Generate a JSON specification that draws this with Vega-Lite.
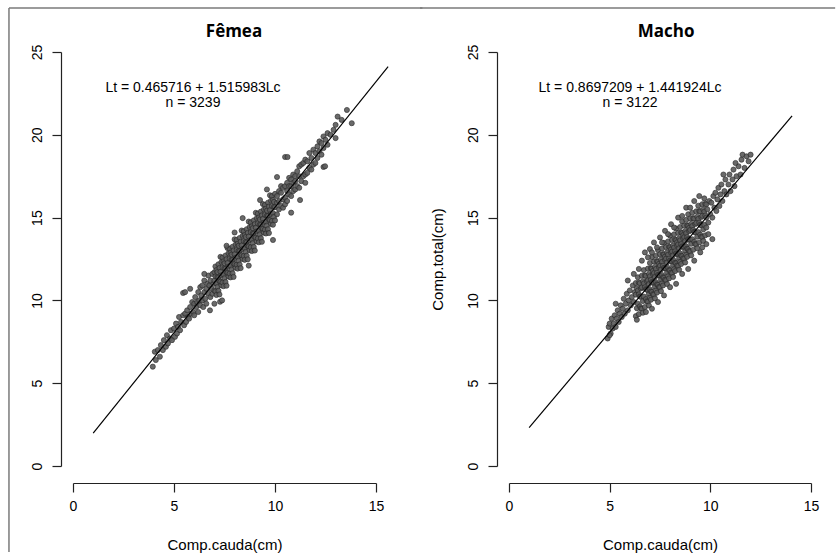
{
"$schema":"https://vega.github.io/schema/vega-lite/v6.json",
"padding":{"left":8,"top":7,"right":0,"bottom":0},
"background":"white",
"bounds":"flush",
"spacing":133,
"config":{"view":{"stroke":null},"axis":{"grid":false,"labelFont":"Liberation Sans","titleFont":"Liberation Sans","labelColor":"#000","titleColor":"#000","domainColor":"#222","tickColor":"#222","domainWidth":1.2,"tickWidth":1.2,"labelFontSize":14,"titleFontSize":15,"titleFontWeight":"normal","tickSize":9}},
"datasets":{
"fem":[
{"x":3.95,"y":6.0},{"x":4.05,"y":6.9},{"x":4.1,"y":6.4},{"x":4.2,"y":7.0},{"x":4.3,"y":6.6},{"x":4.35,"y":7.3},{"x":4.45,"y":7.0},{"x":4.5,"y":7.6},{"x":4.6,"y":7.2},{"x":4.65,"y":7.9},{"x":4.7,"y":7.4},{"x":4.8,"y":7.7},{"x":4.85,"y":8.2},{"x":4.9,"y":7.6},{"x":5.0,"y":8.3},{"x":5.05,"y":7.8},{"x":5.1,"y":8.6},{"x":5.15,"y":8.0},{"x":5.2,"y":8.4},{"x":5.25,"y":9.0},{"x":5.3,"y":8.2},{"x":5.35,"y":8.7},{"x":5.45,"y":9.1},{"x":5.5,"y":8.5},
{"x":5.55,"y":9.2},{"x":5.6,"y":8.7},{"x":5.65,"y":9.4},{"x":5.7,"y":9.0},{"x":5.75,"y":8.9},{"x":5.8,"y":9.6},{"x":5.85,"y":9.2},{"x":5.9,"y":9.9},{"x":5.95,"y":9.3},{"x":6.0,"y":9.8},{"x":6.0,"y":9.1},{"x":6.05,"y":10.2},{"x":6.1,"y":9.6},{"x":6.15,"y":9.9},{"x":6.2,"y":10.5},{"x":6.2,"y":9.3},{"x":6.25,"y":10.0},{"x":6.3,"y":10.8},{"x":6.3,"y":9.7},{"x":6.35,"y":10.3},{"x":6.4,"y":10.0},{"x":6.4,"y":10.9},{"x":6.45,"y":9.6},{"x":6.5,"y":10.5},{"x":6.5,"y":11.2},{"x":6.55,"y":10.1},{"x":6.6,"y":10.7},{"x":6.6,"y":9.8},{"x":6.65,"y":11.0},{"x":6.7,"y":10.4},{"x":6.7,"y":11.5},{"x":6.75,"y":10.9},{"x":6.8,"y":10.2},{"x":6.8,"y":11.2},{"x":6.85,"y":10.7},{"x":6.9,"y":11.6},{"x":6.9,"y":10.4},{"x":6.95,"y":11.0},{"x":7.0,"y":10.6},{"x":7.0,"y":11.7},{"x":7.0,"y":11.2},
{"x":7.05,"y":10.55},{"x":7.05,"y":11.45},{"x":7.05,"y":12.05},
{"x":7.1,"y":11.03},{"x":7.1,"y":11.83},{"x":7.1,"y":10.33},
{"x":7.15,"y":11.41},{"x":7.15,"y":10.81},{"x":7.15,"y":11.71},
{"x":7.2,"y":10.58},{"x":7.2,"y":12.18},{"x":7.2,"y":11.38},
{"x":7.25,"y":11.96},{"x":7.25,"y":11.16},{"x":7.25,"y":10.36},
{"x":7.3,"y":11.13},{"x":7.3,"y":12.63},{"x":7.3,"y":11.73},
{"x":7.35,"y":12.31},{"x":7.35,"y":10.91},{"x":7.35,"y":11.51},
{"x":7.4,"y":11.08},{"x":7.4,"y":11.98},{"x":7.4,"y":12.58},
{"x":7.45,"y":11.56},{"x":7.45,"y":12.36},{"x":7.45,"y":10.86},
{"x":7.5,"y":11.94},{"x":7.5,"y":11.34},{"x":7.5,"y":12.24},
{"x":7.55,"y":11.11},{"x":7.55,"y":12.71},{"x":7.55,"y":11.91},
{"x":7.6,"y":12.49},{"x":7.6,"y":11.69},{"x":7.6,"y":10.89},
{"x":7.65,"y":11.66},{"x":7.65,"y":13.16},{"x":7.65,"y":12.26},
{"x":7.7,"y":12.84},{"x":7.7,"y":11.44},{"x":7.7,"y":12.04},
{"x":7.75,"y":11.62},{"x":7.75,"y":12.52},{"x":7.75,"y":13.12},
{"x":7.8,"y":12.09},{"x":7.8,"y":12.89},{"x":7.8,"y":11.39},
{"x":7.85,"y":12.47},{"x":7.85,"y":11.87},{"x":7.85,"y":12.77},
{"x":7.9,"y":11.64},{"x":7.9,"y":13.24},{"x":7.9,"y":12.44},
{"x":7.95,"y":13.02},{"x":7.95,"y":12.22},{"x":7.95,"y":11.42},
{"x":8.0,"y":12.19},{"x":8.0,"y":13.69},{"x":8.0,"y":12.79},
{"x":8.05,"y":13.37},{"x":8.05,"y":11.97},{"x":8.05,"y":12.57},
{"x":8.1,"y":12.15},{"x":8.1,"y":13.05},{"x":8.1,"y":13.65},
{"x":8.15,"y":12.62},{"x":8.15,"y":13.42},{"x":8.15,"y":11.92},
{"x":8.2,"y":13.0},{"x":8.2,"y":12.4},{"x":8.2,"y":13.3},
{"x":8.25,"y":12.17},{"x":8.25,"y":13.77},{"x":8.25,"y":12.97},
{"x":8.3,"y":13.55},{"x":8.3,"y":12.75},{"x":8.3,"y":11.95},
{"x":8.35,"y":12.72},{"x":8.35,"y":14.22},{"x":8.35,"y":13.32},
{"x":8.4,"y":13.9},{"x":8.4,"y":12.5},{"x":8.4,"y":13.1},
{"x":8.45,"y":12.68},{"x":8.45,"y":13.58},{"x":8.45,"y":14.18},
{"x":8.5,"y":13.15},{"x":8.5,"y":13.95},{"x":8.5,"y":12.45},
{"x":8.55,"y":13.53},{"x":8.55,"y":12.93},{"x":8.55,"y":13.83},
{"x":8.6,"y":12.7},{"x":8.6,"y":14.3},{"x":8.6,"y":13.5},
{"x":8.65,"y":14.08},{"x":8.65,"y":13.28},{"x":8.65,"y":12.48},
{"x":8.7,"y":13.26},{"x":8.7,"y":14.76},{"x":8.7,"y":13.86},
{"x":8.75,"y":14.43},{"x":8.75,"y":13.03},{"x":8.75,"y":13.63},
{"x":8.8,"y":13.21},{"x":8.8,"y":14.11},{"x":8.8,"y":14.71},
{"x":8.85,"y":13.68},{"x":8.85,"y":14.48},{"x":8.85,"y":12.98},
{"x":8.9,"y":14.06},{"x":8.9,"y":13.46},{"x":8.9,"y":14.36},
{"x":8.95,"y":13.23},{"x":8.95,"y":14.83},{"x":8.95,"y":14.03},
{"x":9.0,"y":14.61},{"x":9.0,"y":13.81},{"x":9.0,"y":13.01},
{"x":9.05,"y":13.79},{"x":9.05,"y":15.29},{"x":9.05,"y":14.39},
{"x":9.1,"y":14.96},{"x":9.1,"y":13.56},{"x":9.1,"y":14.16},
{"x":9.15,"y":13.74},{"x":9.15,"y":14.64},{"x":9.15,"y":15.24},
{"x":9.2,"y":14.21},{"x":9.2,"y":15.01},{"x":9.2,"y":13.51},
{"x":9.25,"y":14.59},{"x":9.25,"y":13.99},{"x":9.25,"y":14.89},
{"x":9.3,"y":13.76},{"x":9.3,"y":15.36},{"x":9.3,"y":14.56},
{"x":9.35,"y":15.14},{"x":9.35,"y":14.34},{"x":9.35,"y":13.54},
{"x":9.4,"y":14.32},{"x":9.4,"y":15.82},{"x":9.4,"y":14.92},
{"x":9.45,"y":15.49},{"x":9.45,"y":14.09},{"x":9.45,"y":14.69},
{"x":9.5,"y":14.27},{"x":9.5,"y":15.17},{"x":9.5,"y":15.77},
{"x":9.55,"y":14.74},{"x":9.55,"y":15.54},{"x":9.55,"y":14.04},
{"x":9.6,"y":15.12},{"x":9.6,"y":14.52},{"x":9.6,"y":15.42},
{"x":9.65,"y":14.3},{"x":9.65,"y":15.9},{"x":9.65,"y":15.1},
{"x":9.7,"y":15.67},{"x":9.7,"y":14.87},{"x":9.7,"y":14.07},
{"x":9.75,"y":14.85},{"x":9.75,"y":16.35},{"x":9.75,"y":15.45},
{"x":9.8,"y":16.02},{"x":9.8,"y":14.62},{"x":9.8,"y":15.22},
{"x":9.85,"y":14.8},{"x":9.85,"y":15.7},{"x":9.85,"y":16.3},
{"x":9.9,"y":15.27},{"x":9.9,"y":16.07},{"x":9.9,"y":14.57},
{"x":9.95,"y":15.65},{"x":9.95,"y":15.05},{"x":9.95,"y":15.95},
{"x":10.0,"y":14.83},{"x":10.0,"y":16.43},{"x":10.0,"y":15.63},
{"x":10.1,"y":15.2},{"x":10.1,"y":16.3},{"x":10.1,"y":15.9},
{"x":10.2,"y":16.6},{"x":10.2,"y":15.5},{"x":10.2,"y":16.0},
{"x":10.3,"y":15.7},{"x":10.3,"y":16.5},{"x":10.3,"y":16.9},
{"x":10.4,"y":16.1},{"x":10.4,"y":15.6},{"x":10.4,"y":16.8},
{"x":10.5,"y":16.9},{"x":10.5,"y":16.2},{"x":10.5,"y":15.8},
{"x":10.6,"y":16.0},{"x":10.6,"y":17.1},{"x":10.6,"y":16.6},
{"x":10.7,"y":16.4},{"x":10.7,"y":17.4},{"x":10.7,"y":16.9},
{"x":10.8,"y":17.3},{"x":10.8,"y":16.3},{"x":10.8,"y":16.9},
{"x":10.9,"y":16.6},{"x":10.9,"y":17.6},{"x":10.9,"y":17.1},
{"x":11.0,"y":17.5},{"x":11.0,"y":16.7},{"x":11.0,"y":17.2},
{"x":11.1,"y":16.9},{"x":11.1,"y":17.8},
{"x":11.2,"y":17.5},{"x":11.2,"y":18.1},{"x":11.2,"y":16.8},
{"x":11.3,"y":17.2},{"x":11.3,"y":18.2},
{"x":11.4,"y":18.3},{"x":11.4,"y":17.5},
{"x":11.5,"y":17.6},{"x":11.5,"y":18.5},{"x":11.5,"y":17.1},
{"x":11.6,"y":18.4},{"x":11.6,"y":17.7},
{"x":11.7,"y":18.0},{"x":11.7,"y":18.9},
{"x":11.8,"y":18.6},{"x":11.8,"y":17.9},
{"x":11.9,"y":18.2},{"x":11.9,"y":19.1},
{"x":12.0,"y":18.9},{"x":12.0,"y":18.3},
{"x":12.1,"y":19.3},{"x":12.1,"y":18.6},
{"x":12.2,"y":19.0},{"x":12.2,"y":19.6},
{"x":12.3,"y":19.5},{"x":12.3,"y":18.8},
{"x":12.4,"y":19.2},{"x":12.4,"y":19.9},{"x":12.4,"y":18.06},{"x":12.48,"y":18.1},
{"x":12.5,"y":19.7},{"x":12.6,"y":19.4},{"x":12.6,"y":20.1},{"x":12.75,"y":20.0},{"x":12.9,"y":20.3},{"x":13.0,"y":20.6},{"x":13.0,"y":19.8},{"x":13.1,"y":21.1},{"x":13.3,"y":20.9},{"x":13.56,"y":21.5},{"x":13.8,"y":20.7},
{"x":5.45,"y":10.45},{"x":5.55,"y":10.5},{"x":5.8,"y":10.7},{"x":6.78,"y":9.4},{"x":7.28,"y":9.92},{"x":7.38,"y":10.0},{"x":8.4,"y":14.97},{"x":9.26,"y":16.06},{"x":9.9,"y":13.65},{"x":10.1,"y":17.45},{"x":11.24,"y":16.06},{"x":10.5,"y":18.66},{"x":10.62,"y":18.66},{"x":8.0,"y":14.1},{"x":8.7,"y":12.1},{"x":7.6,"y":13.3},{"x":9.6,"y":16.7},{"x":10.8,"y":15.3},{"x":6.5,"y":11.6},{"x":7.0,"y":9.8}
],
"mac":[
{"x":4.9,"y":7.7},{"x":4.95,"y":8.4},{"x":5.0,"y":8.6},{"x":5.05,"y":8.0},{"x":5.1,"y":8.9},{"x":5.15,"y":8.3},{"x":5.2,"y":8.6},{"x":5.25,"y":9.1},{"x":5.3,"y":8.4},{"x":5.35,"y":8.9},{"x":5.4,"y":9.4},{"x":5.45,"y":8.7},{"x":5.5,"y":9.2},{"x":5.55,"y":9.7},{"x":5.6,"y":9.0},{"x":5.65,"y":9.5},{"x":5.7,"y":10.1},{"x":5.75,"y":9.2},{"x":5.8,"y":9.8},{"x":5.85,"y":10.4},{"x":5.9,"y":9.4},{"x":5.95,"y":10.0},{"x":6.0,"y":10.6},{"x":6.05,"y":9.7},{"x":6.1,"y":10.2},{"x":6.15,"y":10.9},{"x":6.2,"y":9.9},{"x":6.25,"y":10.5},{"x":5.3,"y":9.8},{"x":5.0,"y":7.9},
{"x":6.3,"y":9.05},{"x":6.3,"y":10.35},{"x":6.3,"y":11.05},
{"x":6.35,"y":10.73},{"x":6.35,"y":9.53},{"x":6.35,"y":8.83},
{"x":6.4,"y":9.8},{"x":6.4,"y":11.4},{"x":6.4,"y":10.6},
{"x":6.45,"y":10.37},{"x":6.45,"y":9.17},{"x":6.45,"y":11.07},
{"x":6.5,"y":9.64},{"x":6.5,"y":11.04},{"x":6.5,"y":10.24},
{"x":6.55,"y":10.72},{"x":6.55,"y":9.52},{"x":6.55,"y":10.22},
{"x":6.6,"y":9.49},{"x":6.6,"y":10.79},{"x":6.6,"y":11.49},
{"x":6.65,"y":11.16},{"x":6.65,"y":9.96},{"x":6.65,"y":9.26},
{"x":6.7,"y":10.23},{"x":6.7,"y":11.83},{"x":6.7,"y":11.03},
{"x":6.75,"y":10.8},{"x":6.75,"y":9.6},{"x":6.75,"y":11.5},
{"x":6.8,"y":10.08},{"x":6.8,"y":11.48},{"x":6.8,"y":10.68},
{"x":6.85,"y":11.15},{"x":6.85,"y":9.95},{"x":6.85,"y":10.65},
{"x":6.9,"y":9.92},{"x":6.9,"y":11.22},{"x":6.9,"y":11.92},{"x":6.9,"y":10.62},
{"x":6.95,"y":11.59},{"x":6.95,"y":10.39},{"x":6.95,"y":9.69},{"x":6.95,"y":10.99},
{"x":7.0,"y":10.66},{"x":7.0,"y":12.26},{"x":7.0,"y":11.46},{"x":7.0,"y":10.16},
{"x":7.05,"y":11.24},{"x":7.05,"y":10.04},{"x":7.05,"y":11.94},{"x":7.05,"y":10.54},
{"x":7.1,"y":10.51},{"x":7.1,"y":11.91},{"x":7.1,"y":11.11},{"x":7.1,"y":12.61},
{"x":7.15,"y":11.58},{"x":7.15,"y":10.38},{"x":7.15,"y":11.08},{"x":7.15,"y":11.78},
{"x":7.2,"y":10.35},{"x":7.2,"y":11.65},{"x":7.2,"y":12.35},{"x":7.2,"y":11.05},
{"x":7.25,"y":12.02},{"x":7.25,"y":10.82},{"x":7.25,"y":10.12},{"x":7.25,"y":11.42},
{"x":7.3,"y":11.1},{"x":7.3,"y":12.7},{"x":7.3,"y":11.9},{"x":7.3,"y":10.6},
{"x":7.35,"y":11.67},{"x":7.35,"y":10.47},{"x":7.35,"y":12.37},{"x":7.35,"y":10.97},
{"x":7.4,"y":10.94},{"x":7.4,"y":12.34},{"x":7.4,"y":11.54},{"x":7.4,"y":13.04},
{"x":7.45,"y":12.01},{"x":7.45,"y":10.81},{"x":7.45,"y":11.51},{"x":7.45,"y":12.21},
{"x":7.5,"y":10.79},{"x":7.5,"y":12.09},{"x":7.5,"y":12.79},{"x":7.5,"y":11.49},
{"x":7.55,"y":12.46},{"x":7.55,"y":11.26},{"x":7.55,"y":10.56},{"x":7.55,"y":11.86},
{"x":7.6,"y":11.53},{"x":7.6,"y":13.13},{"x":7.6,"y":12.33},{"x":7.6,"y":11.03},
{"x":7.65,"y":12.1},{"x":7.65,"y":10.9},{"x":7.65,"y":12.8},{"x":7.65,"y":11.4},
{"x":7.7,"y":11.37},{"x":7.7,"y":12.77},{"x":7.7,"y":11.97},{"x":7.7,"y":13.47},
{"x":7.75,"y":12.45},{"x":7.75,"y":11.25},{"x":7.75,"y":11.95},{"x":7.75,"y":12.65},
{"x":7.8,"y":11.22},{"x":7.8,"y":12.52},{"x":7.8,"y":13.22},{"x":7.8,"y":11.92},
{"x":7.85,"y":12.89},{"x":7.85,"y":11.69},{"x":7.85,"y":10.99},{"x":7.85,"y":12.29},
{"x":7.9,"y":11.96},{"x":7.9,"y":13.56},{"x":7.9,"y":12.76},{"x":7.9,"y":11.46},
{"x":7.95,"y":12.53},{"x":7.95,"y":11.33},{"x":7.95,"y":13.23},{"x":7.95,"y":11.83},
{"x":8.0,"y":11.81},{"x":8.0,"y":13.21},{"x":8.0,"y":12.41},{"x":8.0,"y":13.91},
{"x":8.05,"y":12.88},{"x":8.05,"y":11.68},{"x":8.05,"y":12.38},{"x":8.05,"y":13.08},
{"x":8.1,"y":11.65},{"x":8.1,"y":12.95},{"x":8.1,"y":13.65},{"x":8.1,"y":12.35},
{"x":8.15,"y":13.32},{"x":8.15,"y":12.12},{"x":8.15,"y":11.42},{"x":8.15,"y":12.72},
{"x":8.2,"y":12.39},{"x":8.2,"y":13.99},{"x":8.2,"y":13.19},{"x":8.2,"y":11.89},
{"x":8.25,"y":12.97},{"x":8.25,"y":11.77},{"x":8.25,"y":13.67},{"x":8.25,"y":12.27},
{"x":8.3,"y":12.24},{"x":8.3,"y":13.64},{"x":8.3,"y":12.84},{"x":8.3,"y":14.34},
{"x":8.35,"y":13.31},{"x":8.35,"y":12.11},{"x":8.35,"y":12.81},{"x":8.35,"y":13.51},
{"x":8.4,"y":12.08},{"x":8.4,"y":13.38},{"x":8.4,"y":14.08},{"x":8.4,"y":12.78},
{"x":8.45,"y":13.75},{"x":8.45,"y":12.55},{"x":8.45,"y":11.85},{"x":8.45,"y":13.15},
{"x":8.5,"y":12.83},{"x":8.5,"y":14.43},{"x":8.5,"y":13.63},{"x":8.5,"y":12.33},
{"x":8.55,"y":13.4},{"x":8.55,"y":12.2},{"x":8.55,"y":14.1},{"x":8.55,"y":12.7},
{"x":8.6,"y":12.67},{"x":8.6,"y":14.07},{"x":8.6,"y":13.27},{"x":8.6,"y":14.77},
{"x":8.65,"y":13.74},{"x":8.65,"y":12.54},{"x":8.65,"y":13.24},{"x":8.65,"y":13.94},
{"x":8.7,"y":12.52},{"x":8.7,"y":13.82},{"x":8.7,"y":14.52},{"x":8.7,"y":13.22},
{"x":8.75,"y":14.19},{"x":8.75,"y":12.99},{"x":8.75,"y":12.29},{"x":8.75,"y":13.59},
{"x":8.8,"y":13.26},{"x":8.8,"y":14.86},{"x":8.8,"y":14.06},{"x":8.8,"y":12.76},
{"x":8.85,"y":13.83},{"x":8.85,"y":12.63},{"x":8.85,"y":14.53},{"x":8.85,"y":13.13},
{"x":8.9,"y":13.1},{"x":8.9,"y":14.5},{"x":8.9,"y":13.7},{"x":8.9,"y":15.2},
{"x":8.95,"y":14.18},{"x":8.95,"y":12.98},{"x":8.95,"y":13.68},{"x":8.95,"y":14.38},
{"x":9.0,"y":12.95},{"x":9.0,"y":14.25},{"x":9.0,"y":14.95},{"x":9.0,"y":13.65},
{"x":9.05,"y":14.62},{"x":9.05,"y":13.42},{"x":9.05,"y":12.72},
{"x":9.1,"y":13.69},{"x":9.1,"y":15.29},{"x":9.1,"y":14.49},
{"x":9.15,"y":14.26},{"x":9.15,"y":13.06},{"x":9.15,"y":14.96},
{"x":9.2,"y":13.54},{"x":9.2,"y":14.94},{"x":9.2,"y":14.14},
{"x":9.25,"y":14.61},{"x":9.25,"y":13.41},{"x":9.25,"y":14.11},
{"x":9.3,"y":13.38},{"x":9.3,"y":14.68},{"x":9.3,"y":15.38},
{"x":9.35,"y":15.05},{"x":9.35,"y":13.85},{"x":9.35,"y":13.15},
{"x":9.4,"y":14.12},{"x":9.4,"y":15.72},{"x":9.4,"y":14.92},
{"x":9.45,"y":14.7},{"x":9.45,"y":13.5},{"x":9.45,"y":15.4},
{"x":9.5,"y":13.97},{"x":9.5,"y":15.37},{"x":9.5,"y":14.57},
{"x":9.55,"y":15.04},{"x":9.55,"y":13.84},{"x":9.55,"y":14.54},
{"x":9.6,"y":13.81},{"x":9.6,"y":15.11},{"x":9.6,"y":15.81},
{"x":9.65,"y":15.49},{"x":9.65,"y":14.29},{"x":9.65,"y":13.59},
{"x":9.7,"y":14.56},{"x":9.7,"y":16.16},{"x":9.7,"y":15.36},
{"x":9.75,"y":15.13},{"x":9.75,"y":13.93},{"x":9.75,"y":15.83},
{"x":9.8,"y":14.4},{"x":9.8,"y":15.8},{"x":9.8,"y":15.0},
{"x":6.6,"y":12.4},{"x":6.75,"y":12.9},{"x":6.9,"y":12.6},{"x":7.0,"y":13.1},{"x":7.1,"y":12.9},{"x":7.2,"y":13.5},{"x":7.35,"y":13.2},{"x":7.5,"y":13.8},{"x":7.6,"y":13.5},{"x":7.75,"y":14.2},{"x":7.9,"y":14.0},{"x":8.05,"y":14.6},{"x":8.2,"y":14.4},{"x":8.4,"y":15.0},{"x":8.6,"y":15.1},{"x":8.8,"y":15.6},{"x":9.0,"y":15.6},{"x":9.2,"y":16.0},{"x":9.45,"y":16.3},{"x":6.45,"y":11.9},{"x":5.9,"y":11.2},{"x":6.2,"y":11.6},
{"x":6.8,"y":9.3},{"x":7.1,"y":9.5},{"x":7.4,"y":9.9},{"x":7.7,"y":10.3},{"x":8.0,"y":10.8},{"x":8.3,"y":11.0},{"x":8.6,"y":11.6},{"x":8.9,"y":11.9},{"x":9.2,"y":12.4},{"x":9.5,"y":12.9},{"x":9.8,"y":13.4},{"x":10.1,"y":13.7},{"x":9.9,"y":14.0},{"x":9.6,"y":13.2},
{"x":9.85,"y":15.5},{"x":9.9,"y":14.7},{"x":9.95,"y":16.0},{"x":10.0,"y":15.2},{"x":10.05,"y":15.9},{"x":10.1,"y":15.0},{"x":10.15,"y":16.3},{"x":10.2,"y":15.6},{"x":10.25,"y":16.5},{"x":10.3,"y":15.4},{"x":10.35,"y":16.1},{"x":10.4,"y":16.8},{"x":10.45,"y":15.7},{"x":10.5,"y":16.4},{"x":10.55,"y":17.0},{"x":10.6,"y":16.0},{"x":10.7,"y":16.6},{"x":10.75,"y":17.3},{"x":10.8,"y":16.4},{"x":10.9,"y":17.0},{"x":10.95,"y":17.6},{"x":11.0,"y":16.6},{"x":11.1,"y":17.3},{"x":11.15,"y":17.9},{"x":11.2,"y":16.9},{"x":11.3,"y":17.5},{"x":11.4,"y":18.1},{"x":11.5,"y":17.6},{"x":11.55,"y":18.5},{"x":11.6,"y":18.8},{"x":11.7,"y":18.0},{"x":11.8,"y":18.7},{"x":11.9,"y":18.4},{"x":12.0,"y":18.8},{"x":11.25,"y":18.3},{"x":10.65,"y":17.6}
]},
"hconcat":[
{
"width":303,"height":414,
"encoding":{
"x":{"field":"x","type":"quantitative","scale":{"domain":[0,15],"nice":false,"zero":false},"axis":{"orient":"bottom","offset":17,"values":[0,5,10,15],"labelPadding":7,"labelFlush":false,"labelOverlap":false,"title":"Comp.cauda(cm)","titlePadding":24}},
"y":{"field":"y","type":"quantitative","scale":{"domain":[0,25],"nice":false,"zero":false},"axis":{"orient":"left","offset":12,"values":[0,5,10,15,20,25],"labelAngle":-90,"labelAlign":"center","labelBaseline":"bottom","labelPadding":8,"labelOverlap":false,"title":null}}
},
"layer":[
{"data":{"values":[{"x":-3.17,"y":27.66,"y2":-5.2}]},"mark":{"type":"rule","color":"#7a7a7a","strokeWidth":1.5},"encoding":{"y2":{"field":"y2"}}},
{"data":{"values":[{"x":-3.17,"x2":17.3,"y":27.66}]},"mark":{"type":"rule","color":"#7a7a7a","strokeWidth":1.5},"encoding":{"x2":{"field":"x2"}}},
{"data":{"name":"fem"},"mark":{"type":"circle","size":26,"color":"#5e5e5e","stroke":"#262626","strokeWidth":0.7,"opacity":0.92}},
{"data":{"values":[{"x":1,"y":1.982},{"x":15.6,"y":24.115}]},"mark":{"type":"line","color":"#000","strokeWidth":1.2}},
{"data":{"values":[{"x":5.94,"y":22.85,"t":"Lt = 0.465716 + 1.515983Lc"},{"x":5.94,"y":21.95,"t":"n = 3239"}]},"mark":{"type":"text","font":"Liberation Sans","fontSize":14,"baseline":"middle","align":"center","color":"#000"},"encoding":{"text":{"field":"t"}}},
{"data":{"values":[{"x":7.97,"y":25.9,"t":"Fêmea"}]},"mark":{"type":"text","font":"Open Sans","fontSize":17,"fontWeight":"bold","baseline":"alphabetic","align":"center","color":"#000"},"encoding":{"text":{"field":"t"}}}
]
},
{
"width":302,"height":414,
"encoding":{
"x":{"field":"x","type":"quantitative","scale":{"domain":[0,15],"nice":false,"zero":false},"axis":{"orient":"bottom","offset":17,"values":[0,5,10,15],"labelPadding":7,"labelFlush":false,"labelOverlap":false,"title":"Comp.cauda(cm)","titlePadding":24}},
"y":{"field":"y","type":"quantitative","scale":{"domain":[0,25],"nice":false,"zero":false},"axis":{"orient":"left","offset":12,"values":[0,5,10,15,20,25],"labelAngle":-90,"labelAlign":"center","labelBaseline":"bottom","labelPadding":8,"labelOverlap":false,"title":"Comp.total(cm)","titlePadding":21}}
},
"layer":[
{"data":{"values":[{"x":-4.42,"x2":16.2,"y":27.66}]},"mark":{"type":"rule","color":"#7a7a7a","strokeWidth":1.5},"encoding":{"x2":{"field":"x2"}}},
{"data":{"name":"mac"},"mark":{"type":"circle","size":26,"color":"#5e5e5e","stroke":"#262626","strokeWidth":0.7,"opacity":0.92}},
{"data":{"values":[{"x":1,"y":2.312},{"x":14.06,"y":21.143}]},"mark":{"type":"line","color":"#000","strokeWidth":1.2}},
{"data":{"values":[{"x":6.01,"y":22.85,"t":"Lt = 0.8697209 + 1.441924Lc"},{"x":6.01,"y":21.95,"t":"n = 3122"}]},"mark":{"type":"text","font":"Liberation Sans","fontSize":14,"baseline":"middle","align":"center","color":"#000"},"encoding":{"text":{"field":"t"}}},
{"data":{"values":[{"x":7.8,"y":25.9,"t":"Macho"}]},"mark":{"type":"text","font":"Open Sans","fontSize":17,"fontWeight":"bold","baseline":"alphabetic","align":"center","color":"#000"},"encoding":{"text":{"field":"t"}}}
]
}
]
}
